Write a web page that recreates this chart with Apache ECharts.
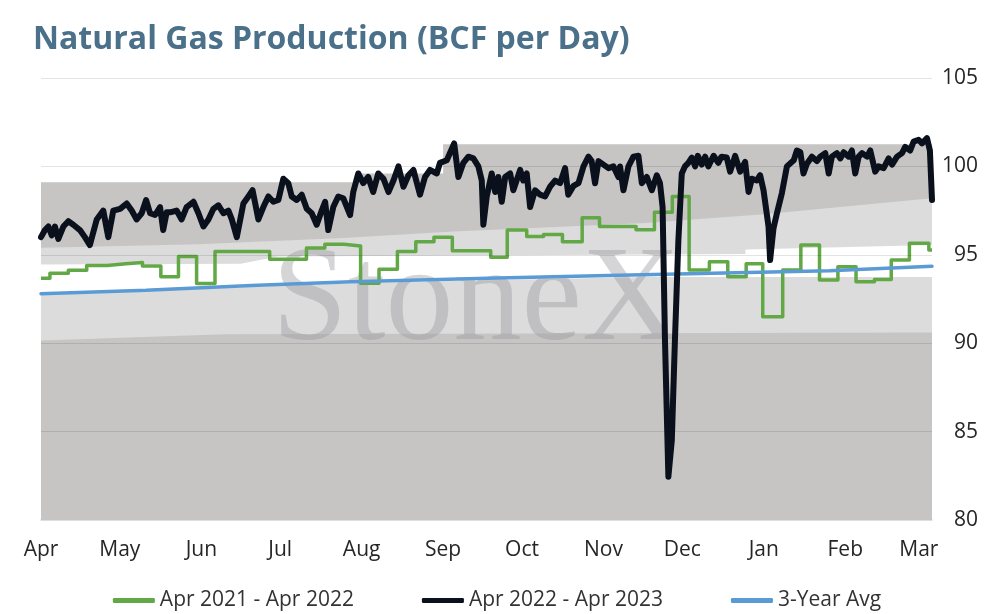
<!DOCTYPE html>
<html>
<head>
<meta charset="utf-8">
<script src="https://cdn.jsdelivr.net/npm/echarts@6/dist/echarts.min.js"></script>
<style>
html,body{margin:0;padding:0;background:#fff;}
#chart{width:994px;height:614px;}
</style>
</head>
<body>
<div id="chart"></div>
<script>
// x = days since Apr 1
const monthStarts = [0, 30, 61, 91, 122, 153, 183, 214, 244, 275, 306, 334];
const monthLabels = ['Apr','May','Jun','Jul','Aug','Sep','Oct','Nov','Dec','Jan','Feb','Mar'];
const yTicks = [80, 85, 90, 95, 100, 105];

// background range bands (top boundaries)
const bandMax = [[0,99.1],[120,99.1],[120,99.6],[153,99.6],[153,101.25],[339,101.25]];
const bandUpper = [[0,95.4],[60,95.6],[115,95.95],[155,96.3],[230,96.8],[275,97.3],[339,98.2]];
const bandWhiteTop = [[0,94.45],[76,94.5],[90,94.9],[268,95.05],[268,95.3],[339,95.55]];
const bandWhiteBottom = [[0,92.75],[120,93.4],[230,93.75],[339,93.75]];
const bandMin = [[0,90.15],[70,90.5],[339,90.6]];

const prodPrior = [[0,93.67],[3.4,93.95],[10.4,94.12],[17.4,94.4],[25.2,94.5],[32.3,94.57],[38.6,94.37],[45.6,93.76],[52.3,94.9],[59.2,93.37],[66.2,95.18],[87,94.75],[101,95.38],[108,95.6],[115.3,95.5],[121.6,93.39],[128.6,94.18],[135.6,95.18],[142.6,95.74],[149.5,95.99],[156.5,95.23],[171.1,94.86],[177.4,96.4],[184.8,96.03],[191.2,96.15],[198.4,95.74],[205.9,97.1],[212.5,96.6],[226.4,96.42],[233.4,97.4],[240.2,98.3],[246.6,94.14],[254.3,94.6],[261.3,93.76],[268.3,94.5],[274.6,91.5],[282.2,94.14],[289.1,95.55],[296.2,93.57],[303.2,94.33],[310.1,93.48],[317.1,93.6],[323.5,94.7],[330.4,95.65],[337.8,95.27],[339,95.27]];

const prodCurrent = [[0,96.0],[1.5,96.4],[2.8,96.6],[4.1,96.1],[5.3,96.6],[6.6,95.9],[8.5,96.6],[10.4,96.9],[12.3,96.7],[14.8,96.4],[16.7,96.0],[18.6,95.55],[21.2,97.0],[23.7,97.5],[25.6,96.0],[27.5,97.5],[30.1,97.6],[32.6,97.9],[34.5,97.5],[36.4,97.0],[38.3,97.35],[40,98.1],[41.5,97.35],[43.4,97.25],[45.3,97.7],[46.5,96.4],[47.8,97.4],[49.1,97.4],[51.6,97.5],[53.5,97.0],[55.4,97.7],[58,98.0],[59.9,97.35],[61.8,96.6],[63.7,97.0],[65.6,97.6],[67.5,97.8],[69.4,97.35],[71.3,97.5],[72.6,97.0],[74.5,96.0],[77,97.9],[78.9,98.3],[80.5,98.65],[82.7,97.0],[84.6,97.7],[86.5,98.3],[88.4,98.0],[90.3,98.1],[92.2,99.3],[94.1,99.05],[95.4,98.3],[97.3,98.1],[99.2,98.4],[101.1,97.6],[103,97.35],[104.9,96.7],[106.8,97.5],[108.1,98.0],[109.3,96.4],[111.2,97.7],[113.1,98.3],[115,98.2],[117.6,97.25],[118.8,98.55],[120.7,99.6],[122.6,99.05],[124.5,99.4],[126.4,98.55],[128.3,99.6],[130.3,99.3],[132.2,98.55],[134.1,99.2],[136,100.0],[137.9,98.85],[139.8,99.5],[141.7,99.8],[144.2,98.4],[146.1,99.4],[148,99.8],[150.6,99.6],[151.8,100.2],[154.4,100.35],[157.2,101.3],[158.8,99.4],[160.7,100.2],[162.6,100.55],[164.5,100.45],[166.4,100.0],[167.7,99.2],[168.3,96.7],[169.6,98.3],[171.5,99.6],[172.8,98.55],[174,99.4],[175.3,98.0],[176.6,99.4],[178.5,99.6],[179.7,98.65],[182.3,99.8],[183.5,99.2],[184.8,99.6],[186.1,97.7],[188,98.65],[189.9,98.4],[191.8,98.3],[193.7,98.85],[195.6,99.2],[197.5,99.05],[199.4,99.9],[200.6,98.4],[202.6,98.9],[204.5,99.05],[206.4,100.0],[208.3,100.55],[209.5,100.3],[210.8,99.05],[212.1,100.3],[214,100.1],[215.9,99.9],[217.8,100.0],[219.7,99.4],[220.3,100.0],[221.6,98.65],[223.5,100.0],[225.4,100.55],[227.3,100.6],[228.6,99.05],[230.5,99.4],[232.4,98.65],[234.3,99.5],[235.5,99.05],[236.5,97.7],[237.4,90.2],[238.7,82.45],[240,84.5],[241.2,90.2],[242.5,95.8],[243.8,99.6],[245,100.0],[246.3,100.2],[247.6,100.5],[248.9,100.0],[249.9,100.6],[251.4,100.1],[252.7,100.55],[253.9,100.0],[255.9,100.6],[257.7,100.2],[258.9,100.55],[260.9,100.5],[262.2,99.7],[264.1,100.6],[266,99.7],[267.9,100.25],[269.2,98.55],[270.5,99.3],[272.3,99.2],[273.6,99.5],[274.9,98.65],[276.8,96.6],[277.4,94.7],[278.7,96.5],[280,97.35],[281.9,98.5],[283.8,100.0],[286.4,100.35],[287.6,100.9],[288.9,100.8],[290.1,99.6],[291.4,100.15],[293.3,100.55],[295.2,100.3],[296.5,100.55],[298.4,100.75],[299.7,99.6],[300.9,100.55],[302.8,100.75],[304.1,100.45],[305.4,100.8],[307.3,100.55],[308.5,100.9],[309.8,99.6],[311.1,100.55],[312.4,100.75],[314.3,100.55],[315.5,100.9],[317.4,99.7],[318.7,100.0],[320.6,99.9],[322.5,100.45],[323.8,100.1],[325.7,100.55],[327.6,100.75],[328.8,101.1],[330.7,100.9],[332,101.4],[333.9,101.5],[335.2,101.3],[337.1,101.6],[338.2,100.9],[339,98.1]];

const avg3yr = [[0,92.8],[40,93.0],[80,93.27],[118,93.48],[170,93.68],[220,93.85],[260,93.97],[300,94.1],[339,94.35]];

const DARK = '#c6c5c4', LIGHT = '#dcdcdc', WHITE = '#ffffff';
const FONT = '"Open Sans", "Lato", sans-serif';

function band(data, color, extra) {
  return Object.assign({
    type: 'line', data: data, symbol: 'none', silent: true, z: 1,
    lineStyle: { width: 0, opacity: 0 },
    areaStyle: { color: color, opacity: 1, origin: 'start' },
    emphasis: { disabled: true }
  }, extra || {});
}

const chart = echarts.init(document.getElementById('chart'), null, { renderer: 'canvas' });
chart.setOption({
  animation: false,
  backgroundColor: '#ffffff',
  title: {
    text: 'Natural Gas Production (BCF per Day)',
    left: 28, top: 19,
    textStyle: { fontFamily: FONT, fontSize: 32, fontWeight: 'bold', color: '#4b7089' }
  },
  grid: { left: 41, right: 62, top: 78, bottom: 94 },
  legend: {
    data: [
      { name: 'Apr 2021 - Apr 2022', icon: 'roundRect', itemStyle: { color: '#62a846' } },
      { name: 'Apr 2022 - Apr 2023', icon: 'roundRect', itemStyle: { color: '#0a111c' } },
      { name: '3-Year Avg', icon: 'roundRect', itemStyle: { color: '#5b9bd5' } }
    ],
    left: 'center', top: 585,
    itemWidth: 42, itemHeight: 5, itemGap: 68,
    textStyle: { fontFamily: FONT, fontSize: 21, color: '#333333' }
  },
  xAxis: {
    type: 'value', min: 0, max: 339, interval: 1,
    axisLine: { show: true, lineStyle: { color: '#d4d4d4', width: 1.5 } },
    axisTick: { show: false },
    splitLine: { show: false },
    axisLabel: {
      margin: 20, fontFamily: FONT, fontSize: 21, color: '#262626',
      formatter: function (v) { const i = monthStarts.indexOf(v); return i >= 0 ? monthLabels[i] : ''; }
    }
  },
  yAxis: {
    type: 'value', position: 'right', min: 80, max: 105, interval: 5,
    axisLine: { show: false }, axisTick: { show: false }, splitLine: { show: false },
    axisLabel: { align: 'right', margin: 46, fontFamily: FONT, fontSize: 21, color: '#262626' }
  },
  graphic: [{
    type: 'text', x: 476, y: 303, z: 2, silent: true,
    style: {
      text: 'StoneX', font: '136px "Liberation Serif", "DejaVu Serif", serif',
      fill: 'rgba(150,150,158,0.4)', textAlign: 'center', textVerticalAlign: 'middle'
    }
  }],
  series: [
    band(bandMax, DARK),
    band(bandUpper, LIGHT),
    band(bandWhiteTop, WHITE),
    band(bandWhiteBottom, LIGHT),
    band(bandMin, DARK, {
      markLine: {
        silent: true, symbol: ['none', 'none'], label: { show: false },
        lineStyle: { color: 'rgba(0,0,0,0.11)', type: 'solid', width: 1.2 },
        data: yTicks.slice(1).map(function (t) { return { yAxis: t }; })
      }
    }),
    {
      name: 'Apr 2021 - Apr 2022', type: 'line', step: 'end', data: prodPrior, symbol: 'none', z: 3,
      lineStyle: { color: '#62a846', width: 3.5, join: 'round' }, itemStyle: { color: '#62a846' }
    },
    {
      name: '3-Year Avg', type: 'line', data: avg3yr, symbol: 'none', z: 3,
      lineStyle: { color: '#5b9bd5', width: 3.5, cap: 'round' }, itemStyle: { color: '#5b9bd5' }
    },
    {
      name: 'Apr 2022 - Apr 2023', type: 'line', data: prodCurrent, symbol: 'none', z: 4,
      lineStyle: { color: '#0a111c', width: 6, join: 'round', cap: 'round' }, itemStyle: { color: '#0a111c' }
    }
  ]
});
</script>
</body>
</html>
